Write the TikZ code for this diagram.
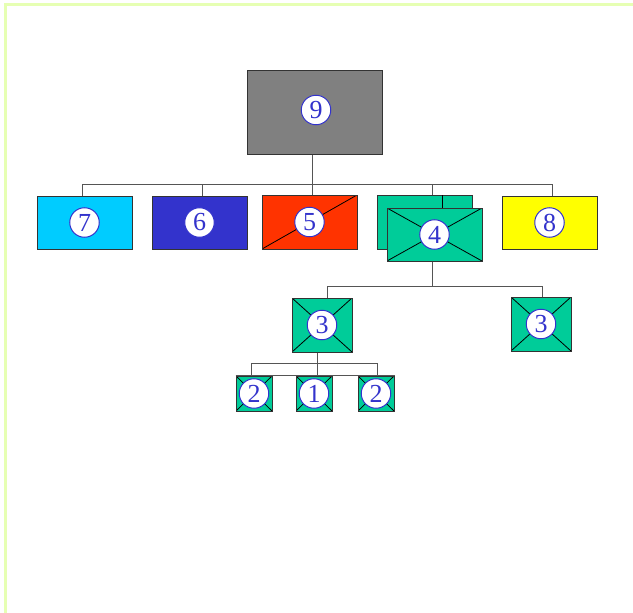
\documentclass[tikz,border=0pt]{standalone}
\usepackage{fontspec}
\setmainfont{Liberation Serif}
\definecolor{bordergreen}{HTML}{E6FFB3}
\definecolor{cgray}{HTML}{808080}
\definecolor{ccyan}{HTML}{00CCFF}
\definecolor{cblue}{HTML}{3333CC}
\definecolor{cred}{HTML}{FF3300}
\definecolor{cgreen}{HTML}{00CC99}
\definecolor{cyell}{HTML}{FFFF00}
\definecolor{edge}{HTML}{333333}
\definecolor{wire}{HTML}{555555}
\begin{document}
\begin{tikzpicture}[x=1pt,y=-1pt,
  box/.style={draw=edge, line width=1pt, rectangle, inner sep=0pt},
  xbox/.style={box, fill=cgreen, path picture={
      \draw[black, line width=0.8pt] (path picture bounding box.north west) -- (path picture bounding box.south east)
        (path picture bounding box.north east) -- (path picture bounding box.south west);}},
  num/.style={circle, draw=cblue, fill=white, line width=1pt, minimum size=29.5pt, inner sep=0pt,
      text=cblue, font=\fontsize{26}{26}\selectfont},
  wireline/.style={draw=wire, line width=1pt}
]
\useasboundingbox (0,0) rectangle (633,613);
\fill[white] (0,0) rectangle (633,613);
\draw[bordergreen, line width=3pt] (5.5,613) -- (5.5,4.5) -- (633,4.5);

% boxes
\node[box, fill=cgray, minimum width=135pt, minimum height=84pt] (n9) at (314.5,112) {};
\node[box, fill=ccyan, minimum width=95pt, minimum height=53pt] (n7) at (84.5,222.5) {};
\node[box, fill=cblue, minimum width=95pt, minimum height=53pt] (n6) at (199.5,222.5) {};
\node[box, fill=cred, minimum width=95pt, minimum height=54pt, path picture={
      \draw[black, line width=0.8pt] (path picture bounding box.south west) -- (path picture bounding box.north east);}] (n5) at (309.5,222) {};
\node[box, fill=cgreen, minimum width=95pt, minimum height=54pt] (n4b) at (424.5,222) {};
\coordinate (s4) at (442,195);
\draw[black, line width=0.8pt] (s4) -- (442,208);
\node[xbox, minimum width=95pt, minimum height=53pt] (n4) at (434.5,234.5) {};
\node[box, fill=cyell, minimum width=95pt, minimum height=53pt] (n8) at (549.5,222.5) {};
\node[xbox, minimum width=60pt, minimum height=54pt] (n3a) at (322,325) {};
\node[xbox, minimum width=60pt, minimum height=54pt] (n3b) at (541,324) {};
\node[xbox, minimum width=36pt, minimum height=35pt] (n2a) at (254,393.5) {};
\node[xbox, minimum width=36pt, minimum height=35pt] (n1) at (314,393.5) {};
\node[xbox, minimum width=36pt, minimum height=35pt] (n2b) at (376,393.5) {};

% connectors level 1
\coordinate (j9) at (312,184);
\coordinate (d7) at (82,184);
\coordinate (d6) at (202,184);
\coordinate (d4) at (432,184);
\coordinate (d8) at (552,184);
\draw[wireline] (j9 |- n9.south) -- (j9 |- n5.north);
\draw[wireline] (d7) -- (d8);
\draw[wireline] (d7) -- (d7 |- n7.north);
\draw[wireline] (d6) -- (d6 |- n6.north);
\draw[wireline] (d4) -- (d4 |- n4b.north);
\draw[wireline] (d8) -- (d8 |- n8.north);

% connectors level 2
\coordinate (j4) at (432,286);
\coordinate (d3a) at (327,286);
\coordinate (d3b) at (542,286);
\draw[wireline] (j4 |- n4.south) -- (j4);
\draw[wireline] (d3a) -- (d3b);
\draw[wireline] (d3a) -- (d3a |- n3a.north);
\draw[wireline] (d3b) -- (d3b |- n3b.north);

% connectors level 3
\coordinate (j3) at (317,363);
\coordinate (d2a) at (251,363);
\coordinate (d2b) at (377,363);
\draw[wireline] (j3 |- n3a.south) -- (j3 |- n1.north);
\draw[wireline] (d2a) -- (d2b);
\draw[wireline] (d2a) -- (d2a |- n2a.north);
\draw[wireline] (d2b) -- (d2b |- n2b.north);
\draw[wireline] (n2a.north west) -- (n2b.north east);

% number circles
\node[num] (c9) at (316,110) {9};
\node[num] (c7) at (n7) {7};
\node[num] (c6) at (n6) {6};
\node[num] (c5) at (n5) {5};
\node[num] (c4) at (n4) {4};
\node[num] (c8) at (n8) {8};
\node[num] (c3a) at (n3a) {3};
\node[num] (c3b) at (n3b) {3};
\node[num] (c2a) at (n2a) {2};
\node[num] (c1) at (n1) {1};
\node[num] (c2b) at (n2b) {2};
\end{tikzpicture}
\end{document}
